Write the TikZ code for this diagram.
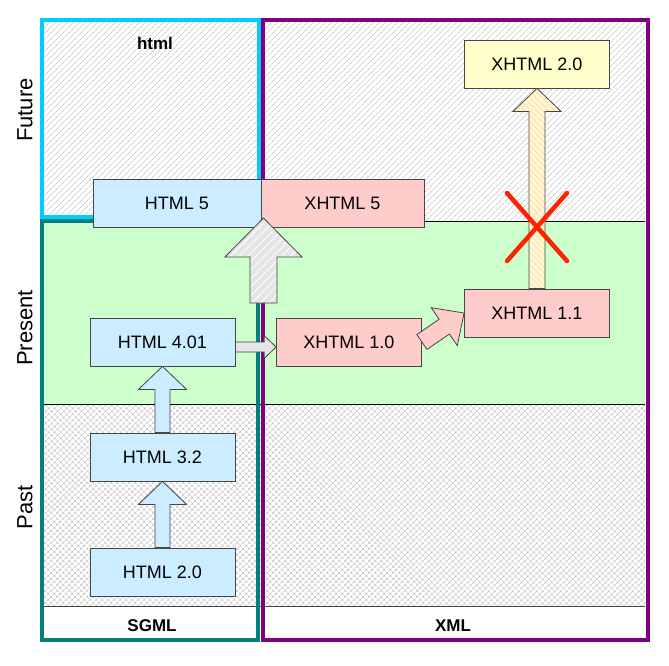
\documentclass[tikz,border=0pt]{standalone}
\usepackage{fontspec}
\setmainfont{Liberation Sans}
\usetikzlibrary{calc,patterns.meta}

\definecolor{htmlblue}{RGB}{204,236,255}
\definecolor{xhtmlpink}{RGB}{255,204,204}
\definecolor{xhtmlyellow}{RGB}{255,255,204}
\definecolor{presentgreen}{RGB}{204,255,204}
\definecolor{htmlcyan}{RGB}{0,204,255}
\definecolor{sgmlteal}{RGB}{0,128,128}
\definecolor{xmlpurple}{RGB}{128,0,128}
\definecolor{crossred}{RGB}{255,34,0}
\definecolor{boxgray}{RGB}{70,70,70}
\definecolor{hatchgray}{RGB}{176,176,176}
\definecolor{dropyellow}{RGB}{255,248,205}
\definecolor{droppink}{RGB}{255,190,190}

\tikzset{
  version/.style={draw=boxgray,line width=0.8pt,minimum width=145pt,minimum height=48pt,inner sep=0pt,font=\fontsize{18}{20}\selectfont},
  era/.style={rotate=90,font=\fontsize{22}{24}\selectfont},
  family/.style={font=\fontsize{17}{19}\selectfont\bfseries},
  frame/.style={line width=4pt},
  % block arrow: shaft half width, head half width, head length
  blockarrow/.style n args={3}{draw=boxgray,line width=0.8pt,to path={
    let \p1=(\tikztostart), \p2=(\tikztotarget),
        \n1={atan2(\y2-\y1,\x2-\x1)}, \n2={veclen(\x2-\x1,\y2-\y1)} in
    ($(\p1)+(\n1+90:#1)$)
    -- ($(\p1)+(\n1:{\n2-#3})+(\n1+90:#1)$)
    -- ($(\p1)+(\n1:{\n2-#3})+(\n1+90:#2)$)
    -- (\p2)
    -- ($(\p1)+(\n1:{\n2-#3})+(\n1-90:#2)$)
    -- ($(\p1)+(\n1:{\n2-#3})+(\n1-90:#1)$)
    -- ($(\p1)+(\n1-90:#1)$) -- cycle}},
}

\begin{document}
\begin{tikzpicture}[x=1pt,y=-1pt]
\useasboundingbox (0,0) rectangle (669,665);

% Bands
\fill[pattern={Lines[angle=45,distance=4pt,line width=0.5pt]},pattern color=hatchgray] (42,20) rectangle (645,221);
\fill[presentgreen] (42,221) rectangle (645,404);
\fill[pattern={Hatch[angle=45,distance=4pt,line width=0.4pt]},pattern color=hatchgray] (42,404) rectangle (645,606);
\draw[black,line width=0.8pt] (263,221) -- (645,221);
\draw[black,line width=0.8pt] (42,404) -- (645,404);
\draw[boxgray,line width=0.8pt] (42,606) -- (645,606);

% Frames
\draw[frame,htmlcyan] (42,20) rectangle (259,217);
\draw[frame,sgmlteal] (42,221) rectangle (258,640);
\draw[frame,xmlpurple] (263,20) rectangle (648,640);

% Labels
\node[era] (future) at (25,110) {Future};
\node[era] (present) at (25,328) {Present};
\node[era] (past) at (25,507) {Past};
\node[family] (htmllabel) at (155,43) {html};
\node[family] (sgml) at (152,626) {SGML};
\node[family] (xml) at (453,626) {XML};

% Versions
\node[version,fill=htmlblue] (h20) at (162.5,572) {HTML 2.0};
\node[version,fill=htmlblue] (h32) at (162.5,457) {HTML 3.2};
\node[version,fill=htmlblue] (h401) at (162.5,342) {HTML 4.01};
\node[version,fill=xhtmlpink] (x10) at (349,342) {XHTML 1.0};
\node[version,fill=xhtmlpink] (x11) at (537,313) {XHTML 1.1};
\node[version,fill=xhtmlyellow] (x20) at (537,64) {XHTML 2.0};
\node[version,fill=htmlblue,minimum width=168pt] (h5) at (177,203) {HTML 5};
\node[version,fill=xhtmlpink,minimum width=163pt] (x5) at (342.5,203) {XHTML 5};

% Arrows
\draw[blockarrow={7.5pt}{24pt}{23pt},fill=htmlblue] (h20.north) to (h32.south);
\draw[blockarrow={7.5pt}{24pt}{23pt},fill=htmlblue] (h32.north) to (h401.south);
\draw[blockarrow={5pt}{11.5pt}{12pt},fill=gray!20] ($(h401.east)+(0,5)$) to ($(x10.west)+(0,5)$);
\draw[blockarrow={9pt}{23pt}{24pt},fill=xhtmlpink] (x10.east) to (x11.west);
\draw[blockarrow={8pt}{24pt}{23pt},preaction={fill=dropyellow},pattern={Lines[angle=-45,distance=4pt,line width=0.5pt]},pattern color=droppink] (x11.north) to (x20.south);
\coordinate (split) at (263.5,303);
\coordinate (merge) at (263.5,218);
\draw[blockarrow={13.5pt}{38.5pt}{39pt},preaction={fill=gray!20},pattern={Lines[angle=45,distance=6pt,line width=0.8pt]},pattern color=white] (split) to (merge);

% Dropped
\coordinate (cross) at (537,227);
\draw[crossred,line width=4.5pt,line cap=round] ($(cross)+(-30,-34)$) -- ($(cross)+(30,34)$);
\draw[crossred,line width=4.5pt,line cap=round] ($(cross)+(30,-34)$) -- ($(cross)+(-30,34)$);

\end{tikzpicture}
\end{document}
